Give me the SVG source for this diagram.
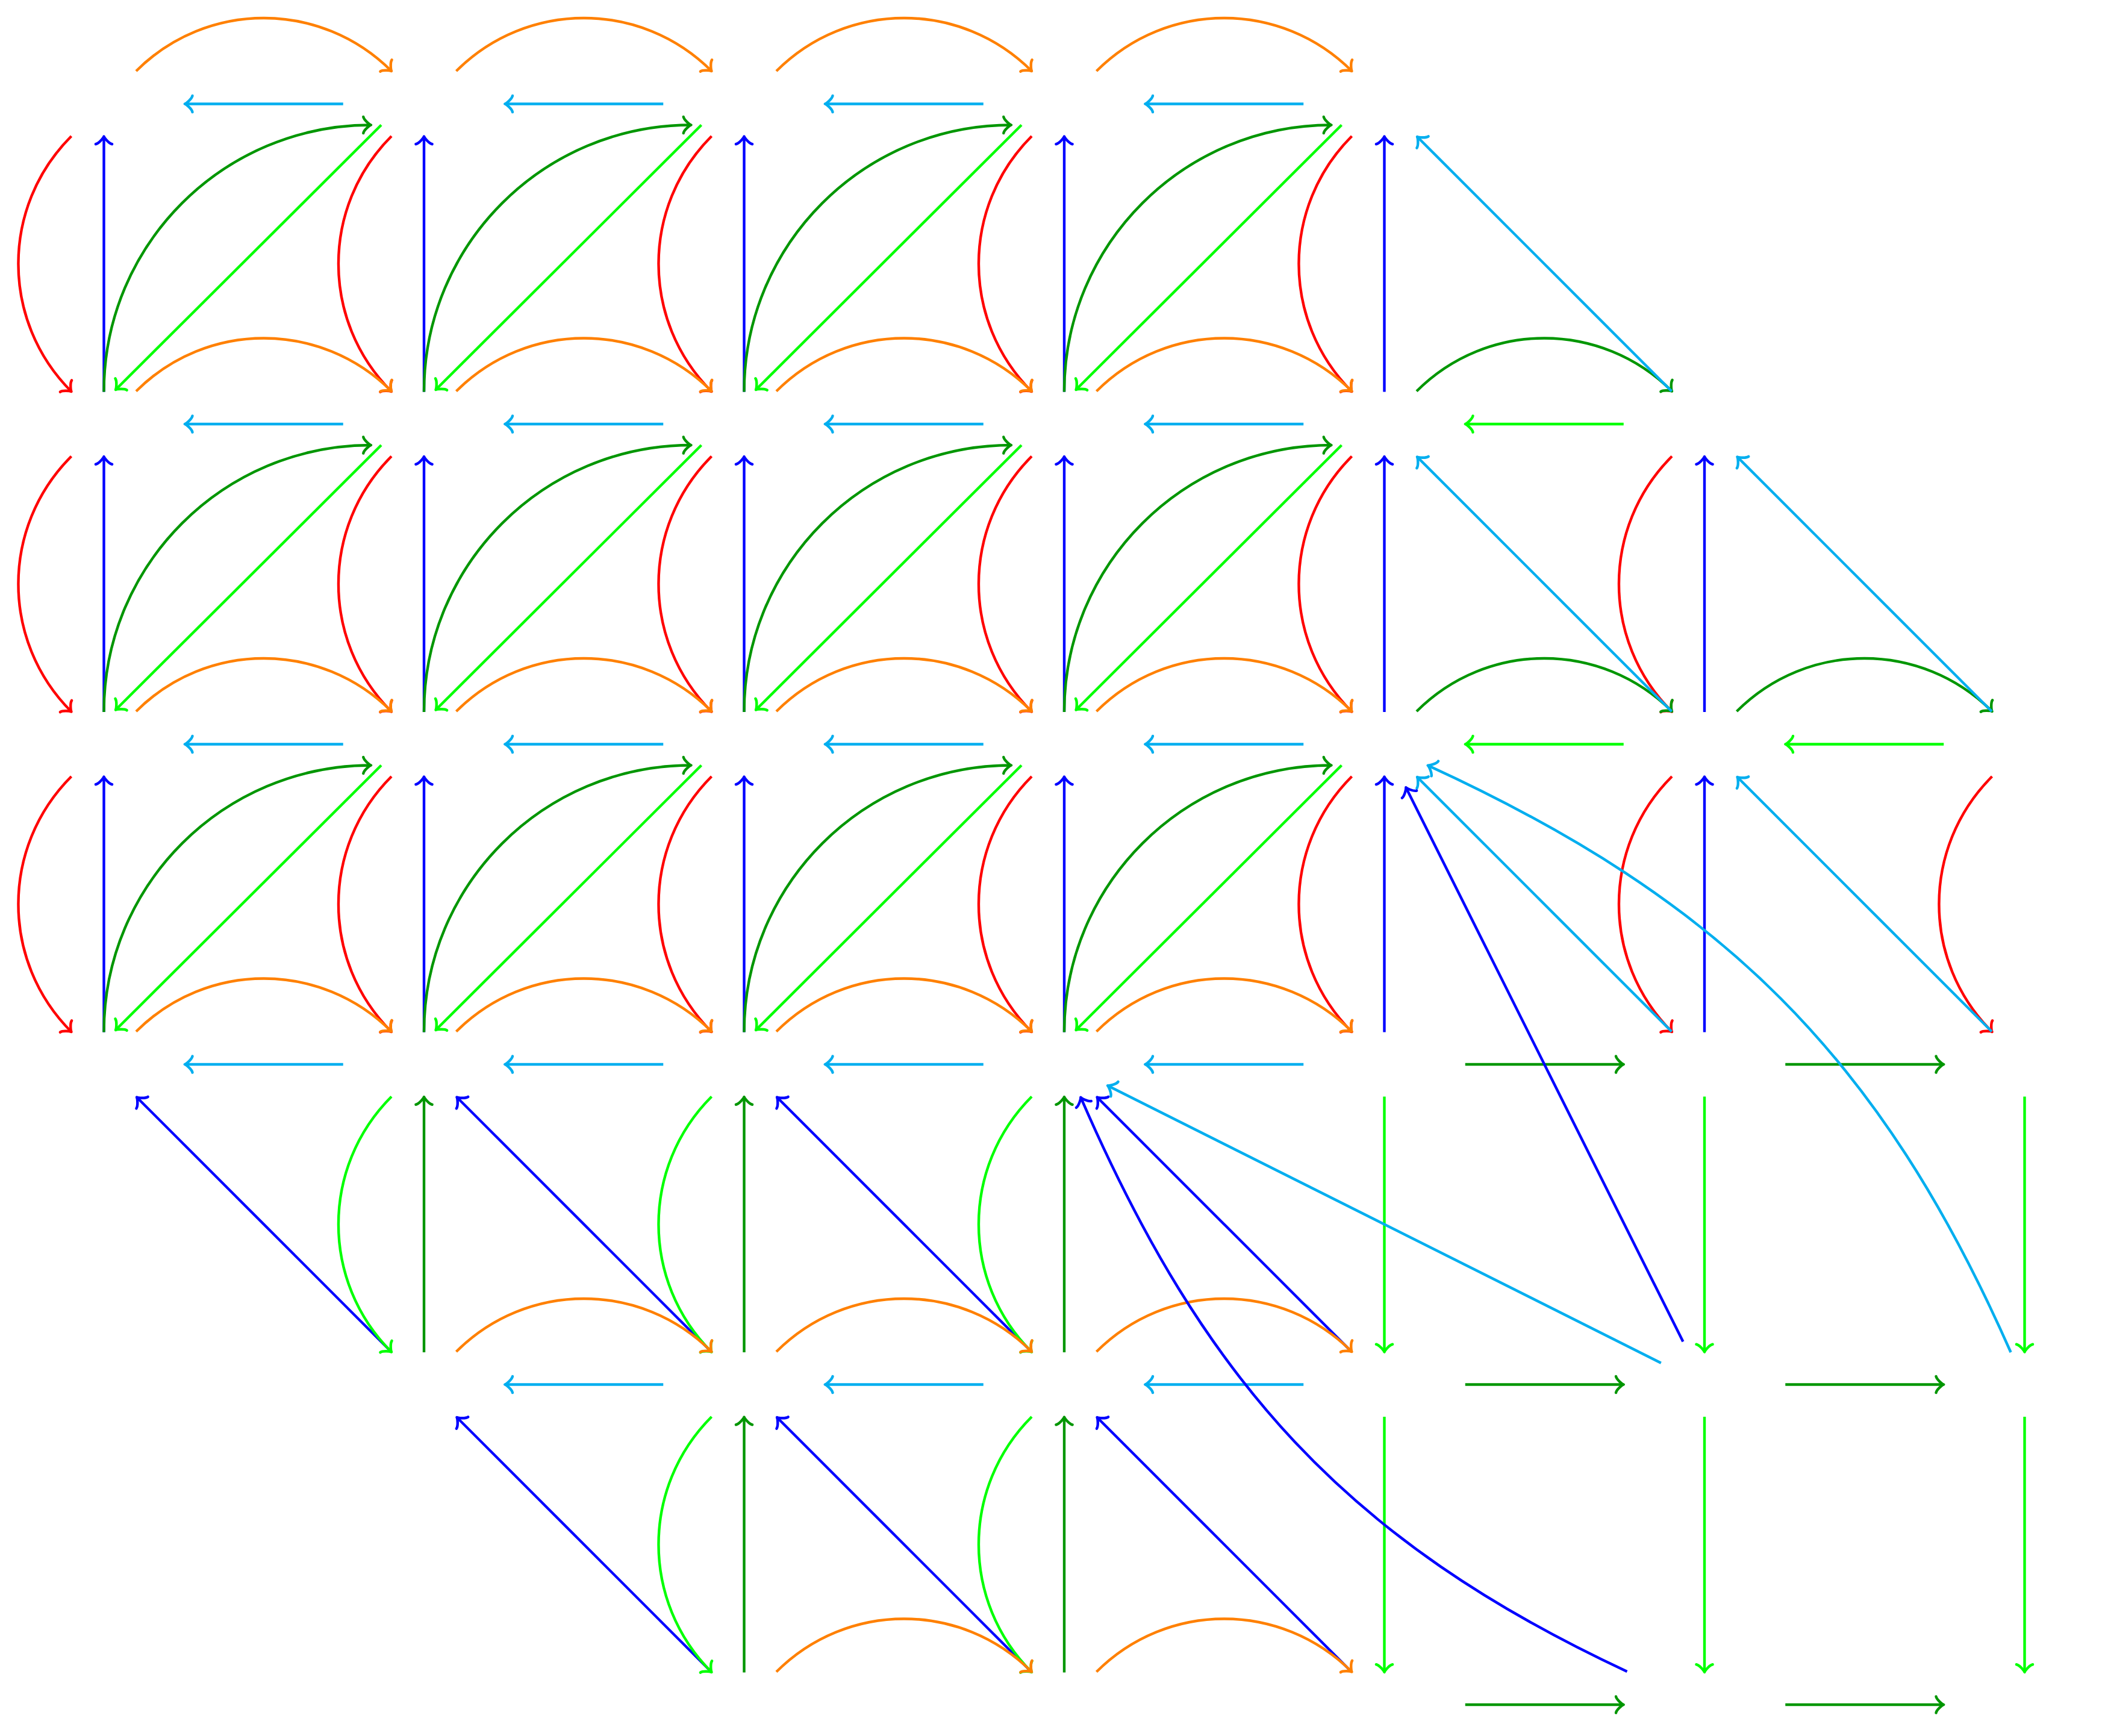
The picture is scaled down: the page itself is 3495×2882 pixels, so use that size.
<svg xmlns="http://www.w3.org/2000/svg" width="3495" height="2882" viewBox="0 0 3495 2882">
<style>
path{fill:none;stroke-width:4.4}
.r{stroke:#ff0000;marker-end:url(#mr)}
.b{stroke:#0000ff;marker-end:url(#mb)}
.g{stroke:#009600;marker-end:url(#mg)}
.l{stroke:#00ff00;marker-end:url(#ml)}
.o{stroke:#ff8000;marker-end:url(#mo)}
.c{stroke:#00aeef;marker-end:url(#mc)}
.tip{fill:none;stroke-width:3.5;stroke-linecap:round;stroke-linejoin:round}
</style>
<defs>
<path id="tp" d="M-12.75,-13.6 C-11.9,-8.5 -2.55,-0.85 0,0 C-2.55,0.85 -11.9,8.5 -12.75,13.6"/>
<marker id="mr" markerUnits="userSpaceOnUse" orient="auto" refX="0" refY="0" markerWidth="40" markerHeight="40" overflow="visible"><use href="#tp" class="tip" stroke="#ff0000"/></marker>
<marker id="mb" markerUnits="userSpaceOnUse" orient="auto" refX="0" refY="0" markerWidth="40" markerHeight="40" overflow="visible"><use href="#tp" class="tip" stroke="#0000ff"/></marker>
<marker id="mg" markerUnits="userSpaceOnUse" orient="auto" refX="0" refY="0" markerWidth="40" markerHeight="40" overflow="visible"><use href="#tp" class="tip" stroke="#009600"/></marker>
<marker id="ml" markerUnits="userSpaceOnUse" orient="auto" refX="0" refY="0" markerWidth="40" markerHeight="40" overflow="visible"><use href="#tp" class="tip" stroke="#00ff00"/></marker>
<marker id="mo" markerUnits="userSpaceOnUse" orient="auto" refX="0" refY="0" markerWidth="40" markerHeight="40" overflow="visible"><use href="#tp" class="tip" stroke="#ff8000"/></marker>
<marker id="mc" markerUnits="userSpaceOnUse" orient="auto" refX="0" refY="0" markerWidth="40" markerHeight="40" overflow="visible"><use href="#tp" class="tip" stroke="#00aeef"/></marker>
</defs>
<rect width="3495" height="2882" fill="#ffffff"/>
<g id="connectors">
<!-- row 0 -->
<path class="o" d="M226,118 c117.4,-117.4 306.6,-117.4 424,0"/>
<path class="o" d="M757.5,118 c117.4,-117.4 306.6,-117.4 424,0"/>
<path class="o" d="M1289,118 c117.4,-117.4 306.6,-117.4 424,0"/>
<path class="o" d="M1820.5,118 c117.4,-117.4 306.6,-117.4 424,0"/>
<path class="c" d="M569.75,172.5 h-263"/>
<path class="c" d="M1101.25,172.5 h-263"/>
<path class="c" d="M1632.75,172.5 h-263"/>
<path class="c" d="M2164.25,172.5 h-263"/>
<!-- rows 0-1 -->
<path class="r" d="M118.5,226 c-117.4,117.4 -117.4,306.6 0,424"/>
<path class="r" d="M650,226 c-117.4,117.4 -117.4,306.6 0,424"/>
<path class="r" d="M1181.5,226 c-117.4,117.4 -117.4,306.6 0,424"/>
<path class="r" d="M1713,226 c-117.4,117.4 -117.4,306.6 0,424"/>
<path class="r" d="M2244.5,226 c-117.4,117.4 -117.4,306.6 0,424"/>
<path class="b" d="M172.5,650.5 v-424"/>
<path class="b" d="M704,650.5 v-424"/>
<path class="b" d="M1235.5,650.5 v-424"/>
<path class="b" d="M1767,650.5 v-424"/>
<path class="b" d="M2298.5,650.5 v-424"/>
<path class="g" d="M172.5,650.5 c0,-245 198.5,-443 443.5,-443"/>
<path class="g" d="M704,650.5 c0,-245 198.5,-443 443.5,-443"/>
<path class="g" d="M1235.5,650.5 c0,-245 198.5,-443 443.5,-443"/>
<path class="g" d="M1767,650.5 c0,-245 198.5,-443 443.5,-443"/>
<path class="l" d="M633,207.5 l-441,439.5"/>
<path class="l" d="M1164.5,207.5 l-441,439.5"/>
<path class="l" d="M1696,207.5 l-441,439.5"/>
<path class="l" d="M2227.5,207.5 l-441,439.5"/>
<!-- row 1 -->
<path class="o" d="M226,649.5 c117.4,-117.4 306.6,-117.4 424,0"/>
<path class="o" d="M757.5,649.5 c117.4,-117.4 306.6,-117.4 424,0"/>
<path class="o" d="M1289,649.5 c117.4,-117.4 306.6,-117.4 424,0"/>
<path class="o" d="M1820.5,649.5 c117.4,-117.4 306.6,-117.4 424,0"/>
<path class="g" d="M2352,649.5 c117.4,-117.4 306.6,-117.4 424,0"/>
<path class="c" d="M569.75,704 h-263"/>
<path class="c" d="M1101.25,704 h-263"/>
<path class="c" d="M1632.75,704 h-263"/>
<path class="c" d="M2164.25,704 h-263"/>
<path class="l" d="M2695.75,704 h-263"/>
<path class="c" d="M2775.5,649.5 l-422.5,-422.5"/>
<!-- rows 1-2 -->
<path class="r" d="M118.5,757.5 c-117.4,117.4 -117.4,306.6 0,424"/>
<path class="r" d="M650,757.5 c-117.4,117.4 -117.4,306.6 0,424"/>
<path class="r" d="M1181.5,757.5 c-117.4,117.4 -117.4,306.6 0,424"/>
<path class="r" d="M1713,757.5 c-117.4,117.4 -117.4,306.6 0,424"/>
<path class="r" d="M2244.5,757.5 c-117.4,117.4 -117.4,306.6 0,424"/>
<path class="r" d="M2776,757.5 c-117.4,117.4 -117.4,306.6 0,424"/>
<path class="b" d="M172.5,1182 v-424"/>
<path class="b" d="M704,1182 v-424"/>
<path class="b" d="M1235.5,1182 v-424"/>
<path class="b" d="M1767,1182 v-424"/>
<path class="b" d="M2298.5,1182 v-424"/>
<path class="b" d="M2830,1182 v-424"/>
<path class="g" d="M172.5,1182 c0,-245 198.5,-443 443.5,-443"/>
<path class="g" d="M704,1182 c0,-245 198.5,-443 443.5,-443"/>
<path class="g" d="M1235.5,1182 c0,-245 198.5,-443 443.5,-443"/>
<path class="g" d="M1767,1182 c0,-245 198.5,-443 443.5,-443"/>
<path class="l" d="M633,739 l-441,439.5"/>
<path class="l" d="M1164.5,739 l-441,439.5"/>
<path class="l" d="M1696,739 l-441,439.5"/>
<path class="l" d="M2227.5,739 l-441,439.5"/>
<!-- row 2 -->
<path class="o" d="M226,1181 c117.4,-117.4 306.6,-117.4 424,0"/>
<path class="o" d="M757.5,1181 c117.4,-117.4 306.6,-117.4 424,0"/>
<path class="o" d="M1289,1181 c117.4,-117.4 306.6,-117.4 424,0"/>
<path class="o" d="M1820.5,1181 c117.4,-117.4 306.6,-117.4 424,0"/>
<path class="g" d="M2352,1181 c117.4,-117.4 306.6,-117.4 424,0"/>
<path class="g" d="M2883.5,1181 c117.4,-117.4 306.6,-117.4 424,0"/>
<path class="c" d="M569.75,1235.5 h-263"/>
<path class="c" d="M1101.25,1235.5 h-263"/>
<path class="c" d="M1632.75,1235.5 h-263"/>
<path class="c" d="M2164.25,1235.5 h-263"/>
<path class="l" d="M2695.75,1235.5 h-263"/>
<path class="l" d="M3227.25,1235.5 h-263"/>
<path class="c" d="M2775.5,1181 l-422.5,-422.5"/>
<path class="c" d="M3307,1181 l-422.5,-422.5"/>
<!-- rows 2-3 -->
<path class="r" d="M118.5,1289 c-117.4,117.4 -117.4,306.6 0,424"/>
<path class="r" d="M650,1289 c-117.4,117.4 -117.4,306.6 0,424"/>
<path class="r" d="M1181.5,1289 c-117.4,117.4 -117.4,306.6 0,424"/>
<path class="r" d="M1713,1289 c-117.4,117.4 -117.4,306.6 0,424"/>
<path class="r" d="M2244.5,1289 c-117.4,117.4 -117.4,306.6 0,424"/>
<path class="r" d="M2776,1289 c-117.4,117.4 -117.4,306.6 0,424"/>
<path class="r" d="M3307.5,1289 c-117.4,117.4 -117.4,306.6 0,424"/>
<path class="b" d="M172.5,1713.5 v-424"/>
<path class="b" d="M704,1713.5 v-424"/>
<path class="b" d="M1235.5,1713.5 v-424"/>
<path class="b" d="M1767,1713.5 v-424"/>
<path class="b" d="M2298.5,1713.5 v-424"/>
<path class="b" d="M2830,1713.5 v-424"/>
<path class="g" d="M172.5,1713.5 c0,-245 198.5,-443 443.5,-443"/>
<path class="g" d="M704,1713.5 c0,-245 198.5,-443 443.5,-443"/>
<path class="g" d="M1235.5,1713.5 c0,-245 198.5,-443 443.5,-443"/>
<path class="g" d="M1767,1713.5 c0,-245 198.5,-443 443.5,-443"/>
<path class="l" d="M633,1270.5 l-441,439.5"/>
<path class="l" d="M1164.5,1270.5 l-441,439.5"/>
<path class="l" d="M1696,1270.5 l-441,439.5"/>
<path class="l" d="M2227.5,1270.5 l-441,439.5"/>
<path class="c" d="M2775.5,1712.5 l-422.5,-422.5"/>
<path class="c" d="M3307,1712.5 l-422.5,-422.5"/>
<!-- row 3 -->
<path class="o" d="M226,1712.5 c117.4,-117.4 306.6,-117.4 424,0"/>
<path class="o" d="M757.5,1712.5 c117.4,-117.4 306.6,-117.4 424,0"/>
<path class="o" d="M1289,1712.5 c117.4,-117.4 306.6,-117.4 424,0"/>
<path class="o" d="M1820.5,1712.5 c117.4,-117.4 306.6,-117.4 424,0"/>
<path class="c" d="M569.75,1767 h-263"/>
<path class="c" d="M1101.25,1767 h-263"/>
<path class="c" d="M1632.75,1767 h-263"/>
<path class="c" d="M2164.25,1767 h-263"/>
<path class="g" d="M2432.75,1767 h263"/>
<path class="g" d="M2964.25,1767 h263"/>
<!-- rows 3-4 -->
<path class="b" d="M649.5,2244 l-422.5,-422.5"/>
<path class="b" d="M1181,2244 l-422.5,-422.5"/>
<path class="b" d="M1712.5,2244 l-422.5,-422.5"/>
<path class="b" d="M2244,2244 l-422.5,-422.5"/>
<path class="l" d="M650,1820.5 c-117.4,117.4 -117.4,306.6 0,424"/>
<path class="l" d="M1181.5,1820.5 c-117.4,117.4 -117.4,306.6 0,424"/>
<path class="l" d="M1713,1820.5 c-117.4,117.4 -117.4,306.6 0,424"/>
<path class="g" d="M704,2245 v-424"/>
<path class="g" d="M1235.5,2245 v-424"/>
<path class="g" d="M1767,2245 v-424"/>
<path class="l" d="M2298.5,1820.5 v424"/>
<path class="l" d="M2830,1820.5 v424"/>
<path class="l" d="M3361.5,1820.5 v424"/>
<!-- row 4 -->
<path class="o" d="M757.5,2244 c117.4,-117.4 306.6,-117.4 424,0"/>
<path class="o" d="M1289,2244 c117.4,-117.4 306.6,-117.4 424,0"/>
<path class="o" d="M1820.5,2244 c117.4,-117.4 306.6,-117.4 424,0"/>
<path class="c" d="M1101.25,2298.5 h-263"/>
<path class="c" d="M1632.75,2298.5 h-263"/>
<path class="c" d="M2164.25,2298.5 h-263"/>
<path class="g" d="M2432.75,2298.5 h263"/>
<path class="g" d="M2964.25,2298.5 h263"/>
<!-- rows 4-5 -->
<path class="b" d="M1181,2775.5 l-422.5,-422.5"/>
<path class="b" d="M1712.5,2775.5 l-422.5,-422.5"/>
<path class="b" d="M2244,2775.5 l-422.5,-422.5"/>
<path class="l" d="M1181.5,2352 c-117.4,117.4 -117.4,306.6 0,424"/>
<path class="l" d="M1713,2352 c-117.4,117.4 -117.4,306.6 0,424"/>
<path class="g" d="M1235.5,2776.5 v-424"/>
<path class="g" d="M1767,2776.5 v-424"/>
<path class="l" d="M2298.5,2352 v424"/>
<path class="l" d="M2830,2352 v424"/>
<path class="l" d="M3361.5,2352 v424"/>
<!-- row 5 -->
<path class="o" d="M1289,2775.5 c117.4,-117.4 306.6,-117.4 424,0"/>
<path class="o" d="M1820.5,2775.5 c117.4,-117.4 306.6,-117.4 424,0"/>
<path class="g" d="M2432.75,2830 h263"/>
<path class="g" d="M2964.25,2830 h263"/>
<!-- long connectors -->
<path class="b" d="M2794.4,2227.3 L2334.3,1307.3"/>
<path class="c" d="M2757.8,2262.7 L1839,1802.3"/>
<path class="c" d="M3338.6,2245 C3121.5,1753.2 2859.3,1494.8 2370.7,1270.7"/>
<path class="b" d="M2701.5,2775 C2234.9,2557.2 1999.3,2294 1794.3,1821.7"/>
</g>
</svg>
